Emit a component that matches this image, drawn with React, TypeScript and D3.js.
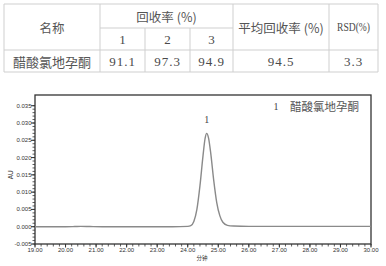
import React from "react";
import * as d3 from "d3";

// ---- Table data ----
const tableHeaderName = "名称";
const tableHeaderRecovery = "回收率 (%)";
const tableSubHeaders = ["1", "2", "3"];
const tableHeaderMean = "平均回收率 (%)";
const tableHeaderRSD = "RSD(%)";
const compoundName = "醋酸氯地孕酮";
const recoveries = ["91.1", "97.3", "94.9"];
const meanRecovery = "94.5";
const rsdValue = "3.3";

// ---- Chromatogram data (time in min, AU) ----
const times = [19.0, 19.5, 20.0, 20.3, 20.5, 20.8, 21.2, 21.5, 22.0, 22.5, 23.0, 23.5, 24.0, 24.1, 24.2, 24.3, 24.4, 24.5, 24.57, 24.62, 24.68, 24.75, 24.85, 24.95, 25.05, 25.15, 25.3, 25.5, 26.0, 27.0, 28.0, 29.0, 30.0];
const absorbance = [0.0, 0.0, 0.0, 0.00005, 0.0001, 0.00005, 0.0, 0.0, 0.0, 0.0, 0.0, 0.0, 0.0001, 0.0003, 0.0015, 0.005, 0.0118, 0.0205, 0.0256, 0.027, 0.0257, 0.0215, 0.0135, 0.007, 0.0032, 0.0013, 0.0004, 0.0002, 0.0001, 0.0001, 0.0001, 0.0001, 0.0001];
const xTickValues = [19, 20, 21, 22, 23, 24, 25, 26, 27, 28, 29, 30];
const yTickValues = [-0.005, 0.0, 0.005, 0.01, 0.015, 0.02, 0.025, 0.03, 0.035];
const peakLabel = "1";
const peakTime = 24.62;
const peakHeight = 0.027;
const legendNumber = "1";
const legendName = "醋酸氯地孕酮";
const xAxisTitle = "分钟";
const yAxisTitle = "AU";

const W = 386;
const H = 266;

export default function App() {
  // table layout
  const colX = [4, 100, 145, 190, 233, 329, 378];
  const rowY = [4, 28, 50, 72];
  const cx = (i: number, j: number) => (colX[i] + colX[j]) / 2;
  const tColor = "#4a4a4a";
  const cjkColor = "#555";
  const lineColor = "#cfcfcf";
  const cjk = "'Noto Sans CJK SC', sans-serif";
  const serif = "'Liberation Serif', 'DejaVu Serif', serif";

  // chart
  const x = d3.scaleLinear().domain([19, 30]).range([35, 371]);
  const y = d3.scaleLinear().domain([-0.005, 0.0381]).range([244, 95]);
  const data = times.map((t, i) => [t, absorbance[i]] as [number, number]);
  const line = d3
    .line<[number, number]>()
    .x((d) => x(d[0]))
    .y((d) => y(d[1]))
    .curve(d3.curveMonotoneX);
  const xMinor = d3.range(19, 30.0001, 0.2);
  const yMinor = d3.range(-0.005, 0.0355, 0.001);
  const axisFont = "'Liberation Sans', Arial, sans-serif";
  const axisColor = "#333";

  return (
    <svg
      width={W}
      height={H}
      style={{ position: "absolute", left: 0, top: 0, background: "#fff" }}
    >
      {/* ---------- table ---------- */}
      <g>
        <line x1={colX[0]} x2={colX[6]} y1={rowY[0]} y2={rowY[0]} stroke={lineColor} />
        <line x1={colX[1]} x2={colX[4]} y1={rowY[1]} y2={rowY[1]} stroke={lineColor} />
        <line x1={colX[0]} x2={colX[6]} y1={rowY[2]} y2={rowY[2]} stroke={lineColor} />
        <line x1={colX[0]} x2={colX[6]} y1={rowY[3]} y2={rowY[3]} stroke={lineColor} />
        {[0, 1, 4, 5, 6].map((i) => (
          <line key={i} x1={colX[i]} x2={colX[i]} y1={rowY[0]} y2={rowY[3]} stroke={lineColor} />
        ))}
        {[2, 3].map((i) => (
          <line key={"s" + i} x1={colX[i]} x2={colX[i]} y1={rowY[1]} y2={rowY[3]} stroke={lineColor} />
        ))}
        <text x={cx(0, 1)} y={27} textAnchor="middle" dominantBaseline="central" fontFamily={cjk} fontSize={12.5} fill={cjkColor}>
          {tableHeaderName}
        </text>
        <text x={cx(1, 4)} y={16} textAnchor="middle" dominantBaseline="central" fontFamily={cjk} fontSize={12.5} fill={cjkColor}>
          {tableHeaderRecovery}
        </text>
        {tableSubHeaders.map((s, i) => (
          <text key={s} x={cx(i + 1, i + 2)} y={39.5} textAnchor="middle" dominantBaseline="central" fontFamily={serif} fontSize={13} fill={tColor}>
            {s}
          </text>
        ))}
        <text x={cx(4, 5)} y={27} textAnchor="middle" dominantBaseline="central" fontFamily={cjk} fontSize={12.5} fill={cjkColor}>
          {tableHeaderMean}
        </text>
        <text x={cx(5, 6)} y={27} textAnchor="middle" dominantBaseline="central" fontFamily={serif} fontSize={11.5} fill={tColor} textLength={33} lengthAdjust="spacingAndGlyphs">
          {tableHeaderRSD}
        </text>
        <text x={cx(0, 1)} y={61} textAnchor="middle" dominantBaseline="central" fontFamily={cjk} fontSize={13} fill={cjkColor}>
          {compoundName}
        </text>
        {recoveries.map((v, i) => (
          <text key={i} x={cx(i + 1, i + 2)} y={61.5} textAnchor="middle" dominantBaseline="central" fontFamily={serif} fontSize={13} fill={tColor} letterSpacing={1}>
            {v}
          </text>
        ))}
        <text x={cx(4, 5)} y={61.5} textAnchor="middle" dominantBaseline="central" fontFamily={serif} fontSize={13} fill={tColor} letterSpacing={1}>
          {meanRecovery}
        </text>
        <text x={cx(5, 6)} y={61.5} textAnchor="middle" dominantBaseline="central" fontFamily={serif} fontSize={13} fill={tColor} letterSpacing={1}>
          {rsdValue}
        </text>
      </g>

      {/* ---------- chromatogram ---------- */}
      <g>
        {xMinor.map((t, i) => (
          <line key={"xm" + i} x1={x(t)} x2={x(t)} y1={244} y2={246.5} stroke={axisColor} strokeWidth={0.8} />
        ))}
        {yMinor.map((t, i) => (
          <line key={"ym" + i} x1={32.5} x2={35} y1={y(t)} y2={y(t)} stroke={axisColor} strokeWidth={0.8} />
        ))}
        {xTickValues.map((t) => (
          <g key={"xt" + t}>
            <line x1={x(t)} x2={x(t)} y1={244} y2={247.5} stroke={axisColor} strokeWidth={1} />
            <text x={x(t)} y={251.5} textAnchor="middle" fontFamily={axisFont} fontSize={6} fill={axisColor}>
              {t.toFixed(2)}
            </text>
          </g>
        ))}
        {yTickValues.map((t) => (
          <g key={"yt" + t}>
            <line x1={31} x2={35} y1={y(t)} y2={y(t)} stroke={axisColor} strokeWidth={1} />
            <text x={31.5} y={y(t)} textAnchor="end" dominantBaseline="central" fontFamily={axisFont} fontSize={6} fill={axisColor}>
              {t.toFixed(3)}
            </text>
          </g>
        ))}
        <rect x={x(19)} y={95} width={x(30) - x(19)} height={244 - 95} fill="none" stroke="#333" strokeWidth={1.3} />
        <path d={line(data) || ""} fill="none" stroke="#8a8a8a" strokeWidth={1.4} />
        <text x={x(peakTime)} y={y(peakHeight) - 14} textAnchor="middle" dominantBaseline="central" fontFamily={serif} fontSize={10} fill="#444">
          {peakLabel}
        </text>
        <text x={276} y={106} textAnchor="middle" dominantBaseline="central" fontFamily={serif} fontSize={10} fill="#444">
          {legendNumber}
        </text>
        <text x={290} y={106} dominantBaseline="central" fontFamily={cjk} fontSize={11.5} fill="#555">
          {legendName}
        </text>
        <text x={0} y={0} transform={`translate(10, ${y(0.015)}) rotate(-90)`} textAnchor="middle" dominantBaseline="central" fontFamily={axisFont} fontSize={6.5} fill={axisColor}>
          {yAxisTitle}
        </text>
        <text x={202} y={258} textAnchor="middle" dominantBaseline="central" fontFamily={cjk} fontSize={5.5} fill={axisColor}>
          {xAxisTitle}
        </text>
      </g>
    </svg>
  );
}
